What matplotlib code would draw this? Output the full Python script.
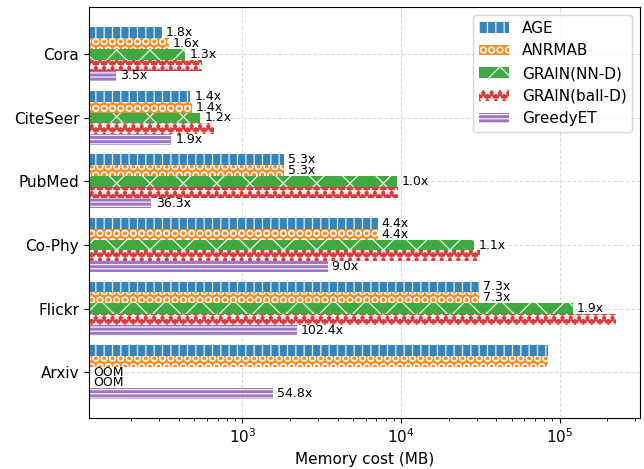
import numpy as np
import matplotlib
matplotlib.use("Agg")
import matplotlib.pyplot as plt
import matplotlib.transforms as mtransforms

categories = ["Cora", "CiteSeer", "PubMed", "Co-Phy", "Flickr", "Arxiv"]
methods = ["AGE", "ANRMAB", "GRAIN(NN-D)", "GRAIN(ball-D)", "GreedyET"]

age = [310, 470, 1830, 7130, 31100, 85100]
anrmab = [345, 480, 1830, 7130, 31100, 85100]
grain_nn = [437, 545, 9500, 29000, 121000, np.nan]
grain_ball = [555, 665, 9650, 31500, 226000, np.nan]
greedyet = [160, 357, 268, 3450, 2210, 1560]

age_lbl = ["1.8x", "1.4x", "5.3x", "4.4x", "7.3x", ""]
anrmab_lbl = ["1.6x", "1.4x", "5.3x", "4.4x", "7.3x", ""]
grain_nn_lbl = ["1.3x", "1.2x", "1.0x", "1.1x", "1.9x", "OOM"]
grain_ball_lbl = ["", "", "", "", "", "OOM"]
greedyet_lbl = ["3.5x", "1.9x", "36.3x", "9.0x", "102.4x", "54.8x"]

series = [age, anrmab, grain_nn, grain_ball, greedyet]
labels = [age_lbl, anrmab_lbl, grain_nn_lbl, grain_ball_lbl, greedyet_lbl]
colors = ["tab:blue", "tab:orange", "tab:green", "tab:red", "tab:purple"]
hatches = ["||", "OO", "x", "**", "----"]

plt.rcParams["hatch.color"] = "white"
plt.rcParams["hatch.linewidth"] = 0.9

fig = plt.figure(figsize=(6.44, 4.69), dpi=100)
ax = fig.add_axes([0.138, 0.109, 0.856, 0.876])

y = np.arange(len(categories))
h = 0.17
for i, (vals, lbls) in enumerate(zip(series, labels)):
    pos = y + (i - 2) * h
    v = np.array(vals, dtype=float)
    ax.barh(pos, np.nan_to_num(v, nan=0.0), height=h, left=0, color=colors[i],
            alpha=0.9, hatch=hatches[i], edgecolor="white", linewidth=0,
            label=methods[i])
    for p, val, t in zip(pos, v, lbls):
        if not t:
            continue
        if np.isnan(val):
            tr = mtransforms.blended_transform_factory(ax.transAxes, ax.transData)
            ax.text(0.008, p, t, transform=tr, va="center", ha="left", fontsize=9)
        else:
            ax.annotate(t, (val, p), xytext=(3, 0), textcoords="offset points",
                        va="center", ha="left", fontsize=9)

ax.set_xscale("log")
ax.set_xlim(108, 322000)
ax.set_ylim(5.72, -0.745)
ax.set_yticks(y)
ax.set_yticklabels(categories, fontsize=11)
ax.tick_params(axis="x", labelsize=11)
ax.set_xlabel("Memory cost (MB)", fontsize=11)
ax.grid(True, which="major", linestyle="--", color="lightgray", alpha=0.8)
ax.set_axisbelow(True)
ax.legend(loc="upper right", fontsize=11)

fig.savefig("out.png", dpi=100)
